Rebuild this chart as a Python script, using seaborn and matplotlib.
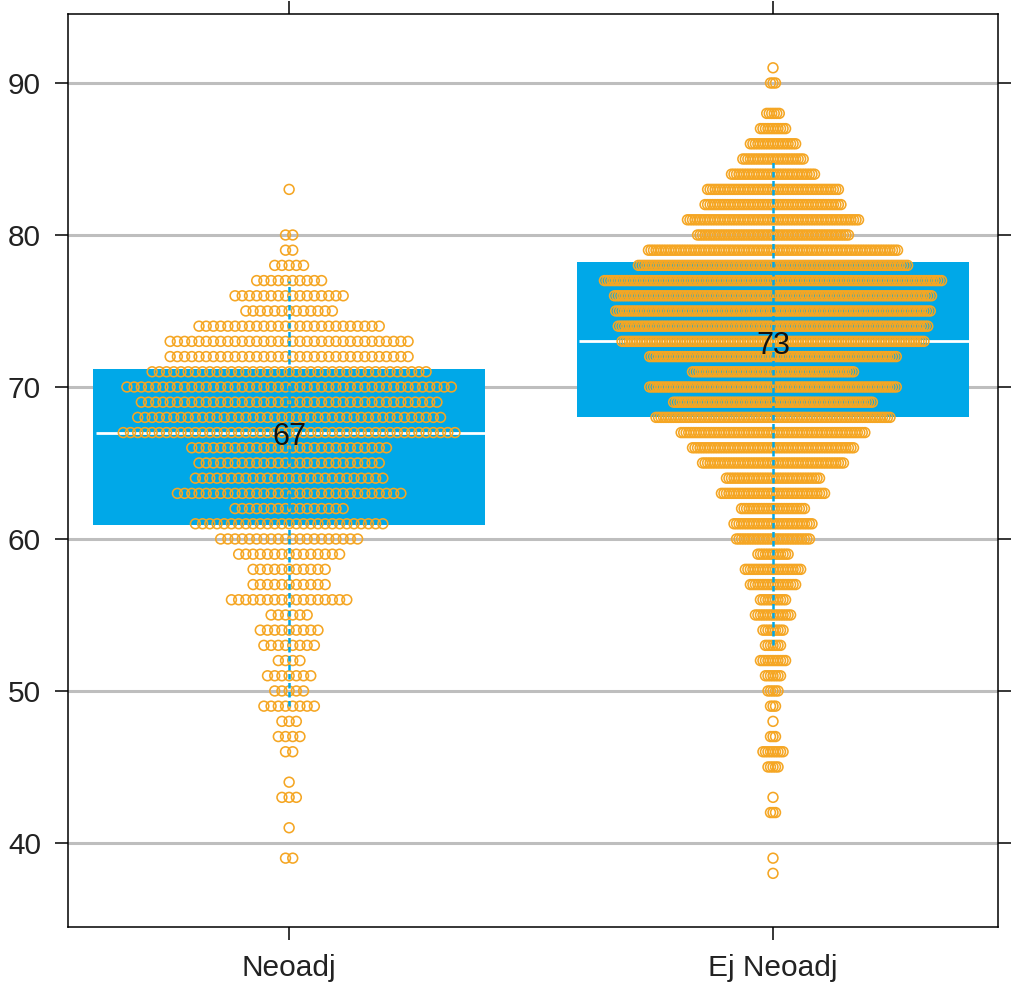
import numpy as np
import pandas as pd
import seaborn as sns
import matplotlib
matplotlib.use("Agg")
import matplotlib.pyplot as plt

# groups on the x axis
groups = ["Neoadj", "Ej Neoadj"]

neo_scores = [39, 41, 43, 44, 46, 47, 48, 49, 50, 51, 52, 53, 54, 55, 56, 57, 58, 59,
              60, 61, 62, 63, 64, 65, 66, 67, 68, 69, 70, 71, 72, 73, 74, 75, 76, 77,
              78, 79, 80, 83]
neo_counts = [2, 1, 3, 1, 2, 4, 3, 8, 5, 7, 4, 8, 9, 6, 17, 11, 11, 15,
              20, 27, 16, 32, 27, 26, 28, 47, 43, 42, 46, 39, 34, 34, 26, 13, 16, 10,
              5, 2, 2, 1]

# Ej Neoadj
ej_scores = [38, 39, 42, 43, 45, 46, 47, 48, 49, 50, 51, 52, 53, 54, 55, 56, 57, 58,
             59, 60, 61, 62, 63, 64, 65, 66, 67, 68, 69, 70, 71, 72, 73, 74, 75, 76,
             77, 78, 79, 80, 81, 82, 83, 84, 85, 86, 87, 88, 90, 91]
ej_counts = [1, 1, 3, 1, 5, 9, 3, 1, 3, 5, 7, 11, 7, 9, 15, 11, 19, 23,
             13, 30, 32, 26, 42, 38, 57, 65, 74, 94, 80, 99, 65, 99, 121, 124, 126, 127,
             135, 108, 100, 61, 69, 55, 53, 34, 25, 19, 11, 6, 3, 1]

# box summary per group
q1 = [60.9, 68.0]
medians = [67, 73]
q3 = [71.2, 78.2]
whisk_lo = [49, 53]
whisk_hi = [77, 85]

# horizontal spacing between neighbouring dots in each swarm (x units)
swarm_step = [0.0149, 0.0052]

ORANGE = "#F5A623"
BLUE = "#00A8E8"


def swarm(group_idx, scores, counts):
    rows = []
    for s, n in zip(scores, counts):
        offs = (np.arange(n) - (n - 1) / 2) * swarm_step[group_idx]
        for o in offs:
            rows.append({"x": group_idx + o, "score": s, "group": groups[group_idx]})
    return rows


df = pd.DataFrame(swarm(0, neo_scores, neo_counts) + swarm(1, ej_scores, ej_counts))

sns.set_style("white")
plt.rcParams["font.family"] = ["Liberation Sans", "DejaVu Sans"]

fig = plt.figure(figsize=(10.12, 9.89), dpi=100)
ax = fig.add_axes([68 / 1012, 62 / 989, 930 / 1012, 913 / 989])

for y in range(40, 95, 10):
    ax.axhline(y, color="#BEBEBE", lw=2.2, zorder=0)

xpos = np.arange(len(groups))
ax.bar(xpos, np.array(q3) - np.array(q1), bottom=q1, width=0.81,
       color=BLUE, edgecolor="none", zorder=1)
ax.hlines(medians, xpos - 0.40, xpos + 0.405, color="white", lw=2.0, zorder=2)

sns.scatterplot(data=df, x="x", y="score", ax=ax, marker="o", s=50,
                facecolor="none", edgecolor=ORANGE, linewidth=1.15,
                legend=False, zorder=3)

ax.vlines(xpos, whisk_lo, whisk_hi, color=BLUE, lw=1.8,
          linestyles=(0, (2.2, 1.4)), zorder=4)

for i, m in enumerate(medians):
    ax.text(xpos[i], m - 0.3, str(m), ha="center", va="center", fontsize=22,
            color="#111111", zorder=5)

ax.set_xlim(-0.457, 1.465)
ax.set_ylim(34.47, 94.54)
ax.set_xticks(xpos)
ax.set_xticklabels(groups)
ax.set_yticks(range(40, 95, 10))
ax.set_xlabel("")
ax.set_ylabel("")

for sp in ax.spines.values():
    sp.set_visible(True)
    sp.set_color("black")
    sp.set_linewidth(1.1)

ax.tick_params(axis="both", which="both", direction="out", length=9.5, width=1.1,
               color="black", top=True, right=True, left=True, bottom=True,
               labelsize=21.5, labelcolor="#222222", pad=10)

fig.savefig("out.png", dpi=100)
